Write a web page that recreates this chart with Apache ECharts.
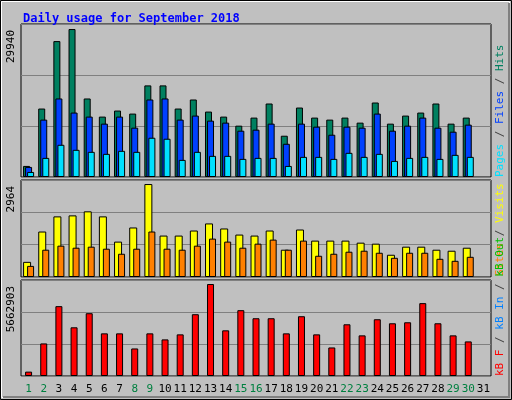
<!DOCTYPE html><html><head><meta charset="utf-8">
<script src="https://cdn.jsdelivr.net/npm/echarts@6/dist/echarts.min.js"></script>
<style>html,body{margin:0;padding:0;background:#c0c0c0}#c{width:512px;height:400px}</style></head><body><div id="c"></div>
<script>
const days=[];for(let i=1;i<=31;i++)days.push(String(i));
const weekend=[1,2,8,9,15,16,22,23,29,30];
const hits=[2241,13852,27500,29940,15889,12222,13444,12833,18537,18537,13852,15685,13241,12222,10389,12018,14870,8352,14055,12018,11611,12018,11000,15074,10796,12426,13037,14870,10796,12018,null];
const files=[2037,11611,15889,13037,12222,10796,12222,9981,15685,15889,11611,12426,11407,11000,9370,9574,10796,6722,10796,10185,8555,10185,9981,12833,9370,10389,12018,9981,9167,10592,null];
const pages=[1019,3870,6518,5500,5093,4685,5296,5093,7944,7741,3463,5093,4278,4278,3667,3870,3870,2241,4074,4074,3667,4889,4074,4685,3259,3870,4074,3667,4481,4074,null];
const visits=[483,1450,1933,1965,2094,1933,1128,1579,2964,1321,1321,1482,1708,1547,1353,1321,1482,870,1514,1160,1160,1160,1095,1063,709,967,967,870,838,934,null];
const sites=[354,870,999,934,967,902,741,902,1450,902,870,999,1224,1128,934,1063,1192,870,1160,677,741,806,838,773,612,773,773,580,516,644,null];
const kbytes=[268749,2005281,4299984,2997585,3865851,2625471,2625471,1695186,2625471,2253357,2563452,3803832,5662903,2811528,4051908,3555756,3555756,2625471,3679794,2563452,1757205,3183642,2501433,3493737,3245661,3307680,4486041,3245661,2501433,2129319,null];
const maxLabels=["29940","2964","5662903"];
const c=echarts.init(document.getElementById('c'));
const font='"DejaVu Sans Mono",monospace';
const grids=[{top:24,height:153},{top:180,height:97},{top:280,height:96}].map(g=>({left:21,right:21,top:g.top,height:g.height,show:true,backgroundColor:'#c0c0c0',borderColor:'#000',borderWidth:1}));
const axMax=[30960,3093,5910000];
const xAxis=[0,1,2].map(i=>({type:'category',gridIndex:i,data:days,axisLine:{show:false},axisTick:{show:false},
 axisLabel:i==2?{fontFamily:font,fontSize:11,margin:8,interval:0,color:(v)=>weekend.includes(+v)?'#008040':'#000'}:{show:false}}));
const yAxis=[0,1,2].map(i=>({type:'value',gridIndex:i,min:0,max:axMax[i],interval:axMax[i]/3,axisLabel:{show:false},axisLine:{show:false},axisTick:{show:false},
 splitLine:{lineStyle:{color:'#808080',width:1}},name:maxLabels[i],nameLocation:'end',nameRotate:90,nameGap:-6,
 nameTextStyle:{fontFamily:font,fontSize:11,color:'#000',align:'right',verticalAlign:'bottom',padding:[0,0,4,0]}}));
const bs={borderColor:'#000',borderWidth:1};
const series=[
 {type:'bar',xAxisIndex:0,yAxisIndex:0,data:hits,barWidth:7,barGap:'-71%',itemStyle:{color:'#008060',...bs}},
 {type:'bar',xAxisIndex:0,yAxisIndex:0,data:files,barWidth:7,barGap:'-71%',itemStyle:{color:'#0040ff',...bs}},
 {type:'bar',xAxisIndex:0,yAxisIndex:0,data:pages,barWidth:7,barGap:'-71%',itemStyle:{color:'#00e0ff',...bs}},
 {type:'bar',xAxisIndex:1,yAxisIndex:1,data:visits,barWidth:8,barGap:'-50%',itemStyle:{color:'#ffff00',...bs}},
 {type:'bar',xAxisIndex:1,yAxisIndex:1,data:sites,barWidth:7,barGap:'-50%',itemStyle:{color:'#ff8000',...bs}},
 {type:'bar',xAxisIndex:2,yAxisIndex:2,data:kbytes,barWidth:7,itemStyle:{color:'#ff0000',...bs}}
];
function vlabel(y,parts){return {type:'text',left:494,top:y,rotation:Math.PI/2,style:{text:parts.map(p=>'{'+p[1]+'|'+p[0]+'}').join(''),font:'11px '+font,
 rich:{g:{fill:'#008060',fontFamily:font,fontSize:11},b:{fill:'#0040ff',fontFamily:font,fontSize:11},c:{fill:'#00e0ff',fontFamily:font,fontSize:11},s:{fill:'#606060',fontFamily:font,fontSize:11},
 y:{fill:'#ffff00',fontFamily:font,fontSize:11},o:{fill:'#ff8000',fontFamily:font,fontSize:11},r:{fill:'#ff0000',fontFamily:font,fontSize:11},l:{fill:'#0080ff',fontFamily:font,fontSize:11},e:{fill:'#00c000',fontFamily:font,fontSize:11}}}};}
c.setOption({animation:false,backgroundColor:'#c0c0c0',grid:grids,xAxis,yAxis,series,
 title:{text:'Daily usage for September 2018',left:18,top:8,textStyle:{fontFamily:font,fontSize:12,fontWeight:'bold',color:'#0000ff'}},
 graphic:[
  {type:'rect',shape:{x:0.5,y:0.5,width:511,height:399},style:{fill:'none',stroke:'#000',lineWidth:1}},
  {type:'rect',shape:{x:1.5,y:1.5,width:508,height:396},style:{fill:'none',stroke:'#fff',lineWidth:1}},
  {type:'polyline',shape:{points:[[3,397],[509,397],[509,3]]},style:{stroke:'#808080',lineWidth:2,fill:'none'}},
  {type:'group',left:494,top:24,children:[{type:'text',x:0,y:0,rotation:-Math.PI/2,style:{}}]},
  Object.assign(vlabel(0,[]),{}),
 ].slice(0,3).concat([
  rt(495,177,[['Pages','c'],[' / ','s'],['Files','b'],[' / ','s'],['Hits','g']]),
  rt(495,276,[['Sites','o'],[' / ','s'],['Visits','y']]),
  rt(495,376,[['kB F','r'],[' / ','s'],['kB In','l'],[' / ','s'],['kB Out','e']])
 ])});
function rt(x,y,parts){const rich={};const cols={g:'#008060',b:'#0040ff',c:'#00e0ff',s:'#404040',y:'#ffff00',o:'#ff8000',r:'#ff0000',l:'#0080ff',e:'#00c000'};
 for(const k in cols)rich[k]={fill:cols[k],color:cols[k],fontFamily:font,fontSize:11};
 return {type:'text',x:x,y:y,rotation:Math.PI/2,style:{text:parts.map(p=>'{'+p[1]+'|'+p[0]+'}').join(''),rich,verticalAlign:'top',align:'left'}};}
</script></body></html>
